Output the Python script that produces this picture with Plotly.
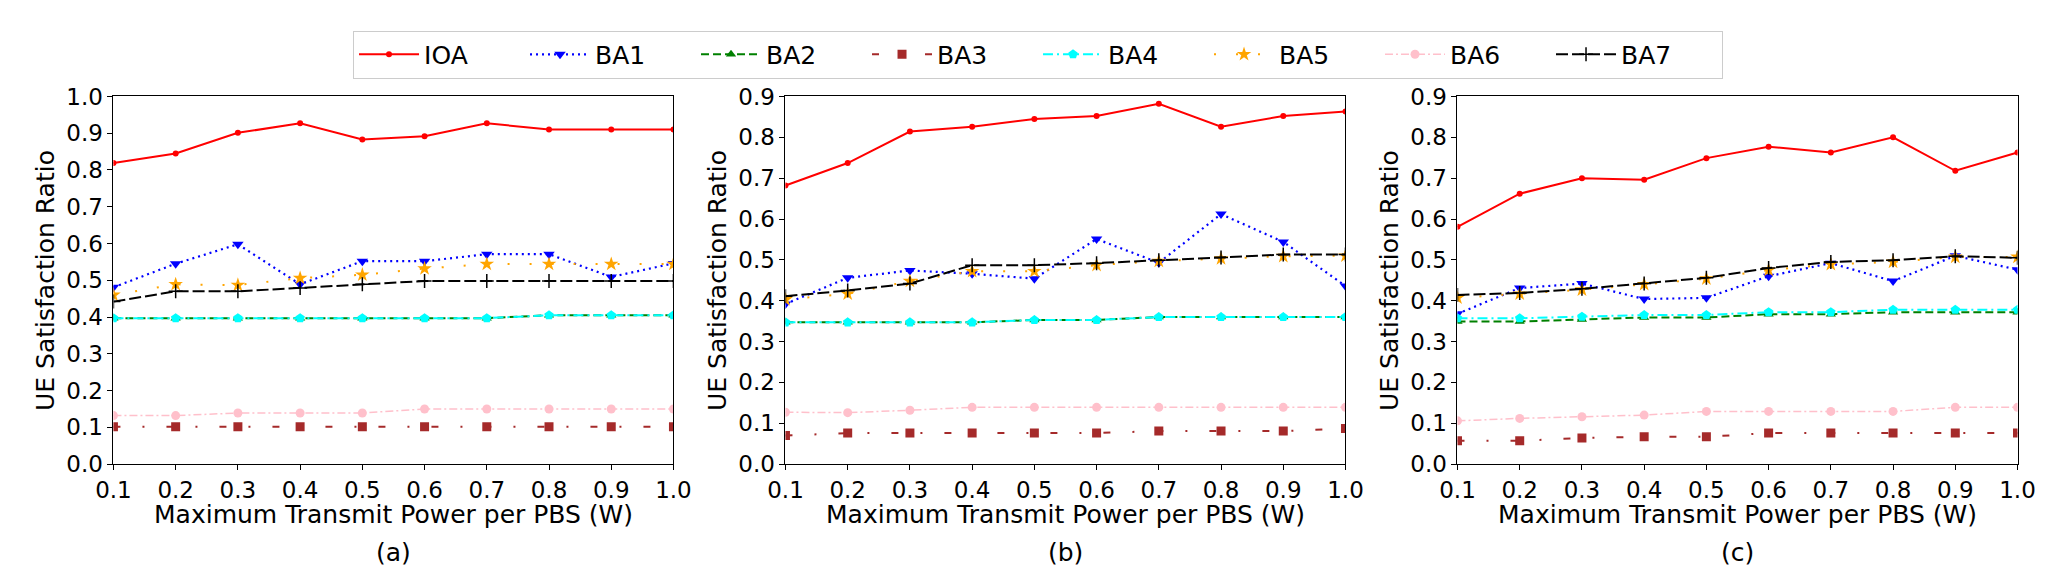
import plotly.graph_objects as go

# x values (W) and series
power = [0.1, 0.2, 0.3, 0.4, 0.5, 0.6, 0.7, 0.8, 0.9, 1.0]
x_ticks = [0.1, 0.2, 0.3, 0.4, 0.5, 0.6, 0.7, 0.8, 0.9, 1.0]
panel_labels = ["(a)", "(b)", "(c)"]
series_names = ["IOA", "BA1", "BA2", "BA3", "BA4", "BA5", "BA6", "BA7"]

# panel (a)
ioa_a = [0.819, 0.845, 0.901, 0.927, 0.883, 0.892, 0.927, 0.910, 0.910, 0.910]
ba1_a = [0.481, 0.545, 0.598, 0.489, 0.552, 0.552, 0.571, 0.571, 0.509, 0.546]
ba2_a = [0.397, 0.397, 0.397, 0.397, 0.397, 0.397, 0.397, 0.405, 0.405, 0.405]
ba3_a = [0.102, 0.102, 0.102, 0.102, 0.102, 0.102, 0.102, 0.102, 0.102, 0.102]
ba4_a = [0.397, 0.397, 0.397, 0.397, 0.397, 0.397, 0.397, 0.405, 0.405, 0.405]
ba5_a = [0.460, 0.489, 0.487, 0.506, 0.515, 0.532, 0.544, 0.544, 0.544, 0.544]
ba6_a = [0.132, 0.132, 0.139, 0.139, 0.139, 0.150, 0.150, 0.150, 0.150, 0.150]
ba7_a = [0.442, 0.470, 0.470, 0.479, 0.489, 0.498, 0.498, 0.498, 0.498, 0.498]

# panel (b)
ioa_b = [0.682, 0.737, 0.814, 0.826, 0.845, 0.852, 0.882, 0.826, 0.852, 0.863]
ba1_b = [0.392, 0.456, 0.474, 0.466, 0.454, 0.551, 0.493, 0.612, 0.544, 0.436]
ba2_b = [0.347, 0.347, 0.347, 0.347, 0.353, 0.353, 0.360, 0.360, 0.360, 0.360]
ba3_b = [0.070, 0.076, 0.076, 0.076, 0.076, 0.076, 0.081, 0.081, 0.081, 0.087]
ba4_b = [0.347, 0.347, 0.347, 0.347, 0.353, 0.353, 0.360, 0.360, 0.360, 0.360]
ba5_b = [0.403, 0.417, 0.448, 0.472, 0.472, 0.487, 0.497, 0.503, 0.509, 0.510]
ba6_b = [0.127, 0.126, 0.132, 0.139, 0.139, 0.139, 0.139, 0.139, 0.139, 0.139]
ba7_b = [0.411, 0.425, 0.442, 0.487, 0.487, 0.492, 0.499, 0.506, 0.513, 0.513]

# panel (c)
ioa_c = [0.581, 0.662, 0.700, 0.696, 0.749, 0.777, 0.763, 0.800, 0.718, 0.763]
ba1_c = [0.368, 0.431, 0.442, 0.404, 0.407, 0.460, 0.492, 0.448, 0.510, 0.476]
ba2_c = [0.349, 0.349, 0.354, 0.359, 0.359, 0.367, 0.367, 0.372, 0.372, 0.372]
ba3_c = [0.057, 0.057, 0.064, 0.067, 0.067, 0.076, 0.076, 0.076, 0.076, 0.076]
ba4_c = [0.357, 0.357, 0.361, 0.365, 0.365, 0.372, 0.372, 0.378, 0.378, 0.378]
ba5_c = [0.407, 0.417, 0.427, 0.440, 0.454, 0.475, 0.489, 0.495, 0.507, 0.507]
ba6_c = [0.106, 0.112, 0.116, 0.120, 0.129, 0.129, 0.129, 0.129, 0.139, 0.139]
ba7_c = [0.414, 0.419, 0.429, 0.442, 0.456, 0.480, 0.495, 0.499, 0.509, 0.505]

panels = [
    [ioa_a, ba1_a, ba2_a, ba3_a, ba4_a, ba5_a, ba6_a, ba7_a],
    [ioa_b, ba1_b, ba2_b, ba3_b, ba4_b, ba5_b, ba6_b, ba7_b],
    [ioa_c, ba1_c, ba2_c, ba3_c, ba4_c, ba5_c, ba6_c, ba7_c],
]
y_max = [1.0, 0.9, 0.9]

# look of each series (matplotlib-like)
styles = {
    "IOA": dict(color="red", dash="solid", width=2, symbol="circle", size=6),
    "BA1": dict(color="blue", dash="2px,4px", width=2.2, symbol="triangle-down", size=10),
    "BA2": dict(color="green", dash="8px,4px", width=2, symbol="triangle-up", size=9),
    "BA3": dict(color="brown", dash="7px,22px,2px,22px", width=2, symbol="square", size=9),
    "BA4": dict(color="cyan", dash="10px,4px,2px,4px", width=2, symbol="pentagon", size=10),
    "BA5": dict(color="orange", dash="2px,20px", width=2, symbol="star", size=11),
    "BA6": dict(color="pink", dash="8px,3px,2px,3px", width=1.5, symbol="circle", size=9),
    "BA7": dict(color="black", dash="12px,4px", width=2, symbol="cross-thin", size=10),
}

W, H = 2056, 578
x_px = [(89, 659), (773, 1343), (1457, 2027)]
y_top, y_bot = 79, 464
FONT = "DejaVu Sans"
TICK_SIZE = 23
LABEL_SIZE = 25

fig = go.Figure()
for i, vals in enumerate(panels):
    ax = "" if i == 0 else str(i + 1)
    for name, y in zip(series_names, vals):
        s = styles[name]
        marker = dict(symbol=s["symbol"], size=s["size"], color=s["color"])
        if s["symbol"] == "cross-thin":
            marker["line"] = dict(color=s["color"], width=1.5)
        fig.add_trace(go.Scatter(
            x=power, y=y, name=name, mode="lines+markers",
            line=dict(color=s["color"], dash=s["dash"], width=s["width"]),
            marker=marker, showlegend=(i == 0),
            xaxis="x" + ax, yaxis="y" + ax,
        ))

axis_common = dict(
    showgrid=False, zeroline=False, showline=True, mirror=True,
    linecolor="black", linewidth=1, ticks="outside", ticklen=5,
    tickcolor="black", tickfont=dict(size=TICK_SIZE, color="black", family=FONT),
)

layout = dict(
    width=W, height=H,
    margin=dict(l=0, r=0, t=0, b=0),
    paper_bgcolor="white", plot_bgcolor="white",
    font=dict(family=FONT, size=LABEL_SIZE, color="black"),
    legend=dict(
        orientation="h", x=0.501, xanchor="center", y=1 - 10 / H, yanchor="top",
        bordercolor="#cccccc", borderwidth=1, font=dict(size=LABEL_SIZE),
        entrywidth=96, entrywidthmode="pixels", itemwidth=60, tracegroupgap=0,
    ),
    annotations=[],
)

for i in range(3):
    ax = "" if i == 0 else str(i + 1)
    x0, x1 = x_px[i]
    layout["xaxis" + ax] = dict(
        axis_common, domain=[x0 / W, x1 / W], range=[0.1, 1.0],
        tickvals=x_ticks, ticktext=[f"{t:.1f}" for t in x_ticks],
        anchor="y" + ax,
    )
    ticks_y = [round(k * 0.1, 1) for k in range(int(round(y_max[i] * 10)) + 1)]
    layout["yaxis" + ax] = dict(
        axis_common, domain=[1 - y_bot / H, 1 - y_top / H], range=[0, y_max[i]],
        tickvals=ticks_y, ticktext=[f"{t:.1f}" for t in ticks_y],
        anchor="x" + ax,
    )
    cx = (x0 + x1) / 2 / W
    layout["annotations"] += [
        dict(text="Maximum Transmit Power per PBS (W)", x=cx, y=1 - 517 / H,
             xanchor="center", yanchor="middle",
             xref="paper", yref="paper", showarrow=False),
        dict(text=panel_labels[i], x=cx, y=1 - 557 / H,
             xanchor="center", yanchor="middle",
             xref="paper", yref="paper", showarrow=False),
        dict(text="UE Satisfaction Ratio", x=(x0 - 69) / W, y=1 - (y_top + y_bot) / 2 / H,
             xanchor="center", yanchor="middle",
             xref="paper", yref="paper", showarrow=False, textangle=-90),
    ]

fig.update_layout(**layout)
fig.write_html("out.html")
